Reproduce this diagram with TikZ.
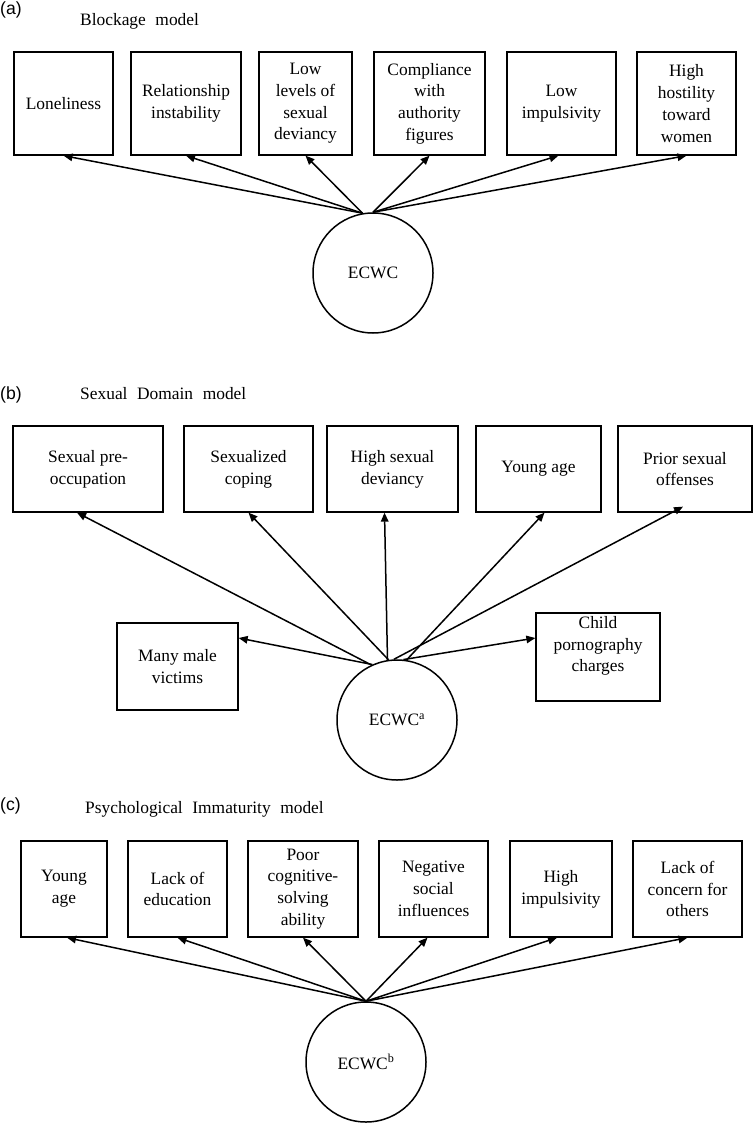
\documentclass[tikz,border=0pt]{standalone}
\usepackage{fontspec}
\setmainfont{Liberation Serif}
\newfontfamily\panelfont{Liberation Sans}
\newfontfamily\titlefont{Liberation Serif}[WordSpace=2.2]
\usetikzlibrary{arrows.meta}

\begin{document}
\begin{tikzpicture}[x=1pt, y=-1pt,
  txt/.style={font=\fontsize{17.4}{21.7}\selectfont},
  box/.style={draw, line width=1.3pt, txt, align=center, inner sep=0pt},
  rowa/.style={box, minimum height=103pt},
  rowb/.style={box, minimum height=86pt},
  rowc/.style={box, minimum height=96pt},
  latent/.style={draw, circle, line width=1.5pt, txt, minimum size=120pt, inner sep=0pt},
  load/.style={-{Triangle[length=9pt, width=7.5pt]}, line width=1.5pt},
  panel/.style={font=\panelfont\fontsize{17.6}{20}\selectfont, anchor=west, inner sep=0pt},
  title/.style={font=\titlefont\fontsize{17.4}{20}\selectfont, anchor=west, inner sep=0pt}]

  \useasboundingbox (0,0) rectangle (755,1123);

  % (a) blockage
  \begin{scope}
    \node[panel] (labA) at (0,10) {(a)};
    \node[title] (titA) at (80,21) {Blockage model};
    \node[rowa, minimum width=99pt] (lone) at (63.5,103.5) {Loneliness};
    \node[rowa, minimum width=110pt] (relinst) at (186,103.5) {Relationship\\instability};
    \node[rowa, minimum width=93pt] (lowdev) at (305.5,103.5) {Low\\levels of\\sexual\\deviancy};
    \node[rowa, minimum width=111pt] (comply) at (429.5,103.5) {Compliance\\with\\authority\\figures};
    \node[rowa, minimum width=109pt] (lowimp) at (561.5,103.5) {Low\\impulsivity};
    \node[rowa, minimum width=99pt] (hostile) at (686.5,103.5) {High\\hostility\\toward\\women};
    \node[latent] (ecwcA) at (373,273) {ECWC};
    \draw[load] (ecwcA.100) -- (lone.south);
    \draw[load] (ecwcA.100) -- (relinst.south);
    \draw[load] (ecwcA.100) -- (lowdev.south);
    \draw[load] (ecwcA.north) -- (comply.south);
    \draw[load] (ecwcA.north) -- ([xshift=-3pt]lowimp.south);
    \draw[load] (ecwcA.north) -- (hostile.south);
  \end{scope}

  % (b) sexual domain
  \begin{scope}
    \node[panel] (labB) at (0,395) {(b)};
    \node[title] (titB) at (80,394) {Sexual Domain model};
    \node[rowb, minimum width=150pt] (preocc) at (88,469) {Sexual pre-\\occupation};
    \node[rowb, minimum width=129pt] (coping) at (248.5,469) {Sexualized\\coping};
    \node[rowb, minimum width=131pt] (highdev) at (392.5,469) {High sexual\\deviancy};
    \node[rowb, minimum width=125pt] (youngB) at (538.5,469) {Young age};
    \node[rowb, minimum width=134pt] (prior) at (685,469) {Prior sexual\\offenses};
    \node[box, minimum width=121pt, minimum height=87pt] (male) at (177.5,666.5) {Many male\\victims};
    \node[box, minimum width=124pt, minimum height=88pt] (child) at (598,657) {};
    \node[txt, align=center, inner sep=0pt] (childtxt) at ([yshift=11pt]child.center) {Child\\pornography\\charges};
    \node[latent] (ecwcB) at (397,720) {ECWC\textsuperscript{a}};
    \draw[load] (ecwcB.115) -- ([xshift=-11pt]preocc.south);
    \draw[load] (ecwcB.98) -- (coping.south);
    \draw[load] (ecwcB.99) -- ([xshift=-8pt]highdev.south);
    \draw[load] (ecwcB.81) -- ([xshift=6pt]youngB.south);
    \draw[load] (ecwcB.93) -- ([xshift=-2pt, yshift=6pt]prior.south);
    \draw[load] (ecwcB.114) -- ([yshift=28.5pt]male.east);
    \draw[load] (ecwcB.84) -- ([yshift=19pt]child.west);
  \end{scope}

  % (c) psychological immaturity
  \begin{scope}
    \node[panel] (labC) at (0,806) {(c)};
    \node[title] (titC) at (85,809) {Psychological Immaturity model};
    \node[rowc, minimum width=86pt] (youngC) at (64,889) {Young\\age};
    \node[rowc, minimum width=99pt] (educ) at (177.5,889) {Lack of\\education};
    \node[rowc, minimum width=110pt] (cognit) at (303,889) {Poor\\cognitive-\\solving\\ability};
    \node[rowc, minimum width=109pt] (social) at (433.5,889) {Negative\\social\\influences};
    \node[rowc, minimum width=102pt] (highimp) at (561,889) {High\\impulsivity};
    \node[rowc, minimum width=109pt] (concern) at (687.5,889) {Lack of\\concern for\\others};
    \node[latent] (ecwcC) at (366,1062) {ECWC\textsuperscript{b}};
    \draw[load] (ecwcC.north) -- ([xshift=3pt]youngC.south);
    \draw[load] (ecwcC.north) -- (educ.south);
    \draw[load] (ecwcC.north) -- (cognit.south);
    \draw[load] (ecwcC.north) -- ([xshift=-6pt]social.south);
    \draw[load] (ecwcC.north) -- ([xshift=-4pt]highimp.south);
    \draw[load] (ecwcC.north) -- (concern.south);
  \end{scope}
\end{tikzpicture}
\end{document}
